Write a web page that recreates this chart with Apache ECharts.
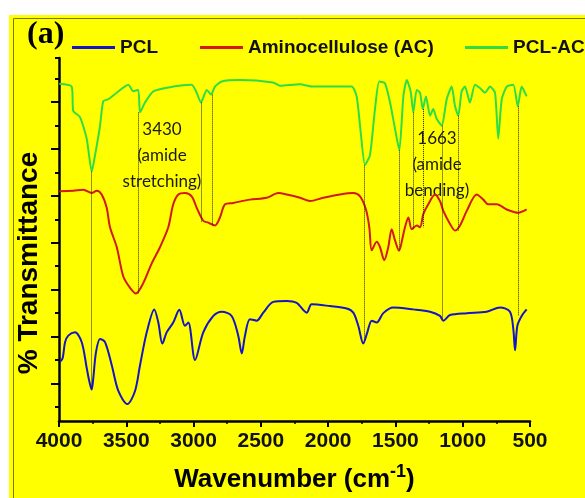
<!DOCTYPE html>
<html>
<head>
<meta charset="utf-8">
<script src="https://cdn.jsdelivr.net/npm/echarts@6/dist/echarts.min.js"></script>
<style>
  html, body { margin: 0; padding: 0; background: #fff; }
  #main { width: 585px; height: 498px; }
</style>
</head>
<body>
<div id="main"></div>
<script>
// wavenumber (cm-1) / transmittance (arbitrary, offset)
const pclWn = [3993,3973,3955,3931,3881,3831,3794,3775,3757,3745,3725,3695,3658,3608,3559,3492,3435,3398,3348,3292,3262,3232,3200,3151,3106,3064,3039,2989,2928,2853,2791,2717,2668,2642,2618,2581,2531,2482,2408,2308,2234,2159,2122,1986,1862,1813,1776,1739,1709,1676,1639,1590,1516,1367,1243,1169,1144,1094,970,822,723,649,624,611,594,562,525];
const pclT = [12.6,13.4,16.8,18.2,18.9,16.8,11.3,8.5,6.7,9.2,14.7,17.5,16.8,11.9,6.4,3.6,6.4,11.9,18.9,23.8,21.0,16.5,18.9,21.0,23.7,20.3,21.0,13.0,18.9,22.4,23.3,22.4,18.2,14.4,18.2,21.7,21.4,23.1,25.4,25.6,25.2,23.1,24.9,24.5,24.0,23.1,20.3,16.5,18.9,21.4,21.0,23.0,24.2,23.8,23.3,22.4,21.4,22.6,23.0,23.3,24.2,23.3,19.6,15.1,20.3,22.4,23.8];

const acWn = [3998,3894,3819,3757,3720,3683,3646,3621,3571,3522,3472,3428,3374,3311,3249,3188,3151,3113,3064,3014,2977,2928,2891,2841,2804,2766,2705,2581,2457,2370,2308,2209,2135,2036,1912,1813,1763,1719,1694,1676,1639,1615,1583,1553,1528,1503,1473,1446,1429,1404,1379,1342,1317,1293,1256,1206,1169,1144,1094,1057,1020,970,896,847,810,747,673,587,525];
const acT = [49.0,49.1,49.3,48.6,49.1,48.3,45.5,41.3,37.1,30.8,28.4,27.2,29.4,33.6,37.1,41.3,46.2,48.3,48.6,47.9,45.5,42.7,42.3,41.7,43.4,46.2,46.5,47.2,47.6,48.6,48.3,47.6,46.9,47.6,48.3,48.6,47.9,45.1,41.3,36.4,38.2,37.1,34.3,37.1,40.9,38.5,36.3,39.2,41.3,43.4,40.9,41.7,41.3,44.1,46.2,48.3,46.9,44.8,42.0,40.6,41.7,44.8,48.3,47.2,46.2,46.2,45.1,44.4,45.1];

const pclAcWn = [3998,3906,3894,3844,3794,3757,3732,3695,3671,3634,3571,3485,3448,3411,3398,3361,3299,3151,3014,2977,2945,2902,2870,2841,2791,2655,2410,2358,2209,2113,1825,1788,1763,1726,1689,1652,1620,1578,1540,1503,1471,1441,1416,1387,1367,1342,1317,1297,1273,1243,1219,1193,1156,1119,1082,1057,1033,1008,983,946,909,872,834,797,760,736,710,673,624,591,562,525];
const pclAcT = [71.9,71.3,66.1,64.8,60.2,53.2,56.7,63.0,68.2,68.6,70.0,71.7,70.3,70.6,65.8,67.9,70.3,71.3,71.7,70.0,67.9,70.6,69.6,71.3,72.4,72.7,72.2,71.5,71.8,71.3,71.3,69.2,63.0,54.6,56.7,66.5,72.4,72.0,67.9,62.3,57.7,69.2,72.7,70.3,65.8,70.6,70.0,66.5,69.2,65.1,66.5,64.4,63.0,68.6,71.3,67.1,65.1,70.3,71.3,67.9,71.7,71.0,70.0,71.3,70.0,60.2,68.6,71.3,71.7,67.1,71.3,69.2];

// dotted guide lines: wavenumber, upper and lower end
const guideWn = [3757,3413,2945,2858,1734,1473,1370,1295,1154,1035,591];
const guideTop = [53.2,65.8,67.9,69.6,54.5,57.7,65.8,66.5,63.0,65.1,67.1];
const guideBottom = [6.7,27.2,42.3,41.7,17.2,36.3,40.9,41.3,21.8,40.6,22.4];

const yMajorTicks = [8,18,28,38,48,58,68];
const yMinorTicks = [3,13,23,33,43,53,63,73,77.4];

var myChart = echarts.init(document.getElementById('main'));

function pairs(xs, ys) {
  return xs.map(function (x, i) { return [x, ys[i]]; });
}

var legendBase = {
  icon: 'rect',
  itemWidth: 43,
  itemHeight: 3,
  itemGap: 6,
  padding: 0,
  top: 38,
  selectedMode: false,
  textStyle: {
    fontFamily: 'Liberation Sans',
    fontWeight: 'bold',
    fontSize: 19,
    color: '#111'
  }
};

var tickLabelStyle = {
  fontFamily: 'Liberation Sans',
  fontWeight: 'bold',
  fontSize: 21,
  color: '#111'
};

const option = {
  animation: false,
  backgroundColor: '#ffffff',
  graphic: [
    { type: 'rect', z: -10, silent: true, shape: { x: 9, y: 15, width: 580, height: 490 }, style: { fill: '#ffff00' } },
    { type: 'rect', z: -9, silent: true, shape: { x: 13.5, y: 18.5, width: 600, height: 500 }, style: { fill: null, stroke: '#7a7a00', lineWidth: 1 } },
    { type: 'text', x: 27, y: 19, style: { text: '(a)', fontFamily: 'Liberation Serif', fontWeight: 'bold', fontSize: 32, fill: '#000' } },
    { type: 'text', x: 29, y: 263, rotation: Math.PI / 2, style: { text: '% Transmittance', fontFamily: 'Liberation Sans', fontWeight: 'bold', fontSize: 28, fill: '#000', align: 'center', verticalAlign: 'middle' } },
    { type: 'text', x: 162, y: 117, style: { text: '3430\n(amide\nstretching)', fontFamily: 'Lato', fontSize: 17, lineHeight: 26, align: 'center', fill: '#1a1a1a' } },
    { type: 'text', x: 437, y: 126, style: { text: '1663\n(amide\nbending)', fontFamily: 'Lato', fontSize: 17, lineHeight: 26, align: 'center', fill: '#1a1a1a' } }
  ],
  legend: [
    Object.assign({ data: ['PCL'], left: 72 }, legendBase),
    Object.assign({ data: ['Aminocellulose (AC)'], left: 200 }, legendBase),
    Object.assign({ data: ['PCL-AC'], left: 465 }, legendBase)
  ],
  grid: {
    left: 59,
    right: 55,
    top: 58,
    bottom: 70,
    containLabel: false
  },
  xAxis: {
    type: 'value',
    inverse: true,
    min: 500,
    max: 4000,
    interval: 500,
    axisLine: { lineStyle: { color: '#000', width: 2.5 } },
    axisTick: { length: 6, lineStyle: { color: '#000', width: 2 } },
    minorTick: { show: true, splitNumber: 2, length: 3, lineStyle: { color: '#000', width: 1.5 } },
    splitLine: { show: false },
    axisLabel: Object.assign({
      margin: 10,
      formatter: function (v) { return String(v); }
    }, tickLabelStyle),
    name: 'Wavenumber (cm{sup|-1})',
    nameLocation: 'middle',
    nameGap: 42,
    nameTextStyle: {
      fontFamily: 'Liberation Sans',
      fontWeight: 'bold',
      fontSize: 26,
      color: '#000',
      rich: {
        sup: { fontFamily: 'Liberation Sans', fontWeight: 'bold', fontSize: 18, color: '#000', verticalAlign: 'top', padding: [0, 0, 16, 0] }
      }
    }
  },
  yAxis: [{
    type: 'value',
    min: 0,
    max: 77.4,
    axisLine: { show: true, lineStyle: { color: '#000', width: 2.5 } },
    axisTick: { show: true, length: 8, lineStyle: { color: '#000', width: 2 }, customValues: yMajorTicks },
    axisLabel: { show: false },
    splitLine: { show: false }
  }, {
    type: 'value',
    position: 'left',
    min: 0,
    max: 77.4,
    axisLine: { show: false },
    axisTick: { show: true, length: 4, lineStyle: { color: '#000', width: 2 }, customValues: yMinorTicks },
    axisLabel: { show: false },
    splitLine: { show: false }
  }],
  series: [{
    name: 'PCL',
    type: 'line',
    data: pairs(pclWn, pclT),
    showSymbol: false,
    smooth: 0.3,
    lineStyle: { width: 2, color: '#1414c8' },
    itemStyle: { color: '#1414c8' },
    markLine: {
      silent: true,
      symbol: 'none',
      label: { show: false },
      lineStyle: { type: 'dotted', color: '#222', width: 1 },
      data: guideWn.map(function (w, i) {
        return [{ coord: [w, guideTop[i]] }, { coord: [w, guideBottom[i]] }];
      })
    }
  }, {
    name: 'Aminocellulose (AC)',
    type: 'line',
    data: pairs(acWn, acT),
    showSymbol: false,
    smooth: 0.3,
    lineStyle: { width: 2, color: '#d21818' },
    itemStyle: { color: '#d21818' }
  }, {
    name: 'PCL-AC',
    type: 'line',
    data: pairs(pclAcWn, pclAcT),
    showSymbol: false,
    smooth: 0.2,
    lineStyle: { width: 2, color: '#2fdc45' },
    itemStyle: { color: '#2fdc45' }
  }]
};

myChart.setOption(option);
window.addEventListener('resize', () => {
  myChart.resize();
});
</script>
</body>
</html>
